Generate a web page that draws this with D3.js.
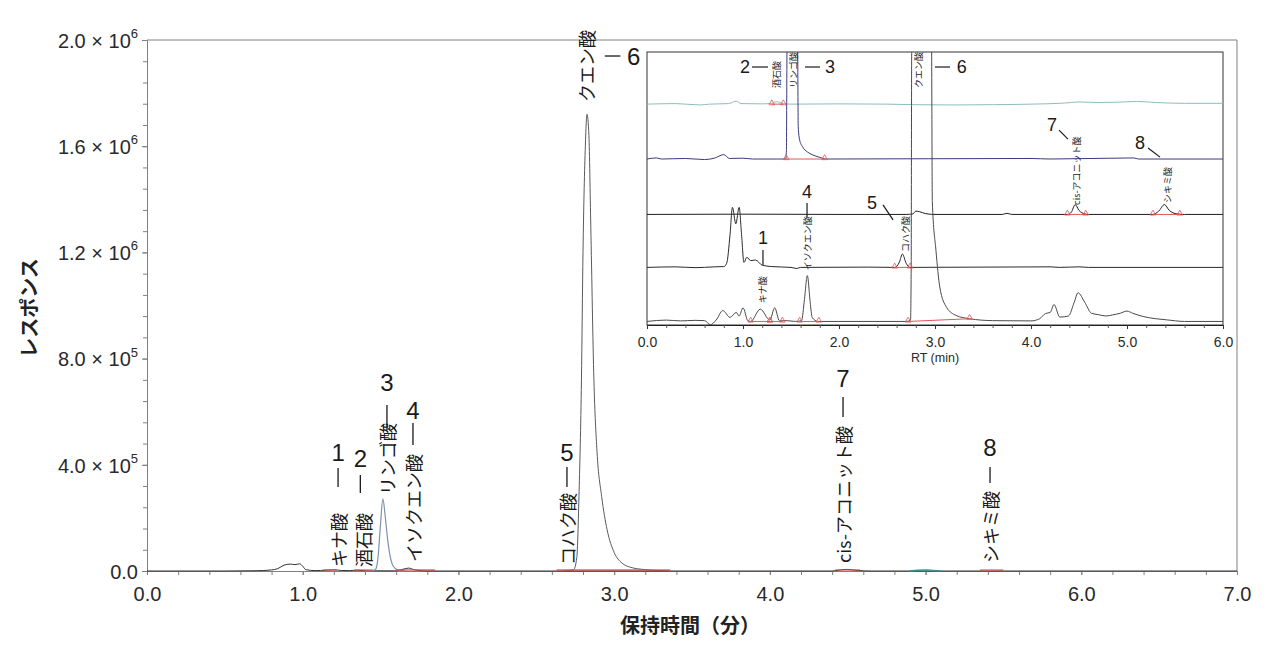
<!DOCTYPE html>
<html><head><meta charset="utf-8">
<script src="https://cdn.jsdelivr.net/npm/d3@7"></script>
<style>
body{margin:0;background:#fff}
text{font-family:"Liberation Sans","Noto Sans CJK JP",Arial,sans-serif}
.jp{font-family:"Noto Sans CJK JP","Liberation Sans",sans-serif}
</style>
</head><body>
<svg id="chart" width="1280" height="657"></svg>
<script>
// ---------------- DATA ----------------
const mainTicksX = [0,1,2,3,4,5,6,7];
const mainMinorX = [0,0.2,0.4,0.6,0.8,1,1.2,1.4,1.6,1.8,2,2.2,2.4,2.6,2.8,3,3.2,3.4,3.6,3.8,4,4.2,4.4,4.6,4.8,5,5.2,5.4,5.6,5.8,6,6.2,6.4,6.6,6.8,7];
const mainTicksY = [0,4e5,8e5,1.2e6,1.6e6,2e6];
const mainMinorY = [0,8e4,1.6e5,2.4e5,3.2e5,4e5,4.8e5,5.6e5,6.4e5,7.2e5,8e5,8.8e5,9.6e5,1.04e6,1.12e6,1.2e6,1.28e6,1.36e6,1.44e6,1.52e6,1.6e6,1.68e6,1.76e6,1.84e6,1.92e6,2e6];
const insetTicksX = [0,1,2,3,4,5,6];
const insetMinorX = [0,0.2,0.4,0.6,0.8,1,1.2,1.4,1.6,1.8,2,2.2,2.4,2.6,2.8,3,3.2,3.4,3.6,3.8,4,4.2,4.4,4.6,4.8,5,5.2,5.4,5.6,5.8,6];

const peakNumbers = ["1","2","3","4","5","6","7","8"];
const peakNames = ["キナ酸","酒石酸","リンゴ酸","イソクエン酸","コハク酸","クエン酸","cis-アコニット酸","シキミ酸"];

// main chromatogram traces [RT (min), response]
const mainBase = [[0,0],[0.5,0],[0.7,1000],[0.8,4000],[0.84,9000],[0.88,22000],[0.92,26000],[0.95,24000],[0.98,27000],[1.0,18000],[1.02,5000],[1.08,1500],[1.15,3000],[1.2,4500],[1.25,2000],[1.3,1500],[1.35,3000],[1.4,800],[1.6,600],[1.64,6000],[1.68,11000],[1.72,4000],[1.8,0],[2.6,0],[4.4,0],[4.45,4000],[4.5,6000],[4.56,2000],[4.65,0],[7,0]];
const mainMalic = [[1.40,0],[1.45,1500],[1.47,8000],[1.485,60000],[1.50,180000],[1.515,272000],[1.53,205000],[1.545,120000],[1.56,60000],[1.58,20000],[1.61,4000],[1.66,0]];
const mainCitric = [[2.68,0],[2.74,5000],[2.76,50000],[2.775,300000],[2.79,720000],[2.80,1200000],[2.815,1600000],[2.826,1720000],[2.838,1640000],[2.85,1300000],[2.87,720000],[2.89,450000],[2.92,280000],[2.955,155000],[3.0,70000],[3.05,30000],[3.10,15000],[3.2,5000],[3.35,0]];
const mainMinor = [[4.9,0],[4.95,2500],[5.0,3500],[5.05,1500],[5.1,0]];
const mainIntegrations = [[1.13,1.22],[1.33,1.45],[1.6,1.85],[2.63,3.36],[4.42,4.58],[5.35,5.5]];

// inset traces: heights above each trace's own baseline (relative units, frame = 100)
const insetOffsets = [80.9, 60.8, 40.5, 21.1, 1.3];
const insetA = [[0,0],[0.3,0.2],[0.55,-0.3],[0.65,0],[0.85,0.2],[0.93,1.1],[0.98,0.2],[1.2,0.1],[1.3,0.3],[1.35,0.9],[1.42,0.2],[1.5,0],[2.0,0.1],[2.5,0],[2.8,-0.2],[3.2,-0.3],[3.6,-0.2],[4.0,0],[4.35,0.4],[4.5,0.8],[4.7,0.6],[4.9,0.7],[5.1,1.0],[5.3,0.6],[5.6,0.3],[6,0.3]];
const insetB = [[0,0],[0.1,0.4],[0.15,0],[0.4,0.2],[0.6,-0.2],[0.7,0.3],[0.8,1.6],[0.86,0.2],[1.0,0.3],[1.1,0],[1.445,0],[1.452,3],[1.458,40],[1.47,100],[1.52,140],[1.56,100],[1.57,40],[1.575,12],[1.59,7],[1.62,4.5],[1.67,2.6],[1.72,1.6],[1.8,0.6],[1.87,0],[4.0,0.2],[4.2,0],[5.07,0.4],[5.12,0],[6,0]];
const insetC = [[0,0],[1.0,0.1],[2.0,0],[2.7,0],[2.77,0.2],[2.8,1.2],[2.84,1.0],[2.9,0.3],[3.0,0],[3.7,0],[3.75,0.4],[3.8,0],[4.38,0],[4.42,0.8],[4.46,3.6],[4.5,1.5],[4.56,0.2],[4.6,0],[5.27,0],[5.33,1.2],[5.39,3.6],[5.44,1.5],[5.52,0.2],[5.6,0],[6,0]];
const insetD = [[0,0],[0.3,0.2],[0.5,-0.1],[0.7,0.2],[0.8,0.3],[0.83,1.5],[0.865,12],[0.89,22],[0.925,16],[0.96,22],[0.985,12],[1.01,1.8],[1.04,3.7],[1.08,2.5],[1.13,2.7],[1.2,0.8],[1.3,0.3],[1.5,0],[1.56,-0.4],[1.6,0],[2.3,0.1],[2.58,0],[2.63,2.0],[2.66,4.9],[2.7,1.5],[2.74,0],[4.2,0.2],[4.3,0],[4.5,0.2],[4.6,0],[6,0]];
const insetE = [[0,0],[0.2,0.5],[0.35,0.2],[0.5,0.4],[0.6,0.3],[0.66,-1.2],[0.72,0.5],[0.79,4],[0.865,1.5],[0.93,3.3],[0.96,2],[1.0,5],[1.05,0.3],[1.08,0],[1.18,4.5],[1.28,0.5],[1.33,5],[1.38,0.2],[1.45,0.3],[1.55,0],[1.61,0.3],[1.64,8],[1.67,16.8],[1.7,7],[1.72,1.5],[1.78,0],[2.7,0],[2.745,0.5],[2.752,20],[2.757,99],[2.8,200],[2.88,220],[2.95,150],[2.965,100],[2.972,44],[3.01,26],[3.05,12.6],[3.12,5.2],[3.22,2.2],[3.36,1.0],[3.6,0.3],[4.0,0.2],[4.09,1],[4.15,2.9],[4.2,3.3],[4.24,6.2],[4.3,1.6],[4.39,2],[4.45,7],[4.49,10.5],[4.56,7],[4.63,3],[4.7,2.5],[4.78,2],[4.85,2.4],[4.93,3],[5.0,3.8],[5.06,3],[5.17,1.8],[5.3,1],[5.41,0.6],[5.6,0],[6,0]];
const insetTraces = [insetA, insetB, insetC, insetD, insetE];
// integration marks per trace: [trace index, RT start, height start, RT end, height end]
const insetIntegrations = [[0,1.30,0,1.42,0],[1,1.45,0,1.85,0],[2,4.38,0,4.57,0],[2,5.27,0,5.55,0],[3,2.58,0,2.74,0],[4,1.08,0,1.28,0],[4,1.28,0,1.41,0],[4,1.59,0,1.79,0],[4,2.72,0,3.36,1.0]];

// annotation anchors (data space) : number, connector, label bottom
const mainAnnot = [
  {p:0, num:[1.227,448000], line:[[1.227,388000],[1.227,316000]], txt:[1.227,15000]},
  {p:1, num:[1.37,425600], line:[[1.37,361600],[1.37,293800]], txt:[1.385,15000]},
  {p:2, num:[1.541,708100], line:[[1.541,625200],[1.541,531100]], txt:[1.541,286300]},
  {p:3, num:[1.708,606400], line:[[1.708,557400],[1.708,474600]], txt:[1.708,33900]},
  {p:4, num:[2.697,448200], line:[[2.697,391700],[2.697,316400]], txt:[2.697,22600]},
  {p:5, num:[3.125,1939700], line:[[2.94,1939700],[3.04,1939700]], txt:[2.82,1766500]},
  {p:6, num:[4.47,726900], line:[[4.47,655400],[4.47,580100]], txt:[4.47,30100]},
  {p:7, num:[5.414,467000], line:[[5.414,391700],[5.414,331500]], txt:[5.414,30100]}
];
const insetAnnot = [
  {p:0, num:[1.208,31.9], line:[[1.208,27.5],[1.208,22]], txt:[1.198,8]},
  {p:1, num:[1.021,94.5], line:[[1.094,94.5],[1.26,94.5]], txt:[1.354,86.8]},
  {p:2, num:[1.906,94.5], line:[[1.646,94.5],[1.802,94.5]], txt:[1.521,86.8]},
  {p:3, num:[1.667,48.7], line:[[1.667,44.7],[1.667,39.2]], txt:[1.677,20.1]},
  {p:4, num:[2.344,44.7], line:[[2.458,44],[2.563,38.5]], txt:[2.6875,26.7]},
  {p:5, num:[3.28,94.5], line:[[3.0,94.5],[3.156,94.5]], txt:[2.833,86.8]},
  {p:6, num:[4.219,73.3], line:[[4.292,71.4],[4.385,68.1]], txt:[4.479,44]},
  {p:7, num:[5.135,66.7], line:[[5.219,64.8],[5.344,61.5]], txt:[5.417,44.7]}
];

const insetColors = ["#8dbdbd","#3a3a7c","#1e1e1e","#2a2a2a","#4a4a4a"];

// ---------------- CHART ----------------
const svg = d3.select("#chart");
const x = d3.scaleLinear().domain([0,7]).range([147,1237]);
const y = d3.scaleLinear().domain([0,2e6]).range([571,40]);
const axisColor = "#808080";

// frame top/right
svg.append("line").attr("x1",x(0)).attr("x2",x(7)).attr("y1",y(2e6)).attr("y2",y(2e6)).attr("stroke",axisColor);
svg.append("line").attr("x1",x(7)).attr("x2",x(7)).attr("y1",y(2e6)).attr("y2",y(0)).attr("stroke",axisColor);

// x axis
const gx = svg.append("g").attr("transform",`translate(0,${y(0)})`);
gx.call(d3.axisBottom(x).tickValues(mainMinorX).tickSize(4).tickFormat(""));
gx.call(g=>g.selectAll("line").attr("stroke",axisColor));
gx.select(".domain").attr("stroke",axisColor);
const gx2 = svg.append("g").attr("transform",`translate(0,${y(0)})`);
gx2.call(d3.axisBottom(x).tickValues(mainTicksX).tickSize(4).tickPadding(12).tickFormat(d3.format(".1f")));
gx2.select(".domain").remove();
gx2.selectAll("line").attr("stroke",axisColor);
gx2.selectAll("text").attr("font-size",20).attr("fill","#2a2a2a").style("font-family","Liberation Sans, Arial, sans-serif");

// y axis
const gy = svg.append("g").attr("transform",`translate(${x(0)},0)`);
gy.call(d3.axisLeft(y).tickValues(mainMinorY).tickSize(4).tickFormat(""));
gy.selectAll("line").attr("stroke",axisColor);
gy.select(".domain").attr("stroke",axisColor);
const gy2 = svg.append("g").attr("transform",`translate(${x(0)},0)`);
gy2.call(d3.axisLeft(y).tickValues(mainTicksY).tickSize(5).tickPadding(9).tickFormat(""));
gy2.select(".domain").remove();
gy2.selectAll("line").attr("stroke",axisColor);
gy2.selectAll(".tick").each(function(d){
  const t = d3.select(this).select("text")
    .attr("font-size",20).attr("fill","#2a2a2a").attr("dy","0.36em")
    .attr("x",-9).attr("text-anchor","end");
  if (d === 0) { t.text("0.0"); return; }
  const e = Math.floor(Math.log10(d));
  const m = (d/Math.pow(10,e)).toFixed(1);
  t.text(null);
  t.append("tspan").text(m+" × 10");
  t.append("tspan").attr("font-size",13).attr("dy","-0.75em").text(e);
});

// axis titles
svg.append("text").attr("class","jp").attr("x",690).attr("y",624).attr("text-anchor","middle")
  .attr("dominant-baseline","central").attr("font-size",20).attr("font-weight","bold").attr("fill","#222").text("保持時間（分）");
svg.append("text").attr("class","jp").attr("transform","translate(28,308) rotate(-90)").attr("text-anchor","middle")
  .attr("dominant-baseline","central").attr("font-size",20).attr("font-weight","bold").attr("fill","#222").text("レスポンス");

// main traces
const mline = d3.line().x(d=>x(d[0])).y(d=>y(d[1])).curve(d3.curveMonotoneX);
svg.append("path").datum(mainBase).attr("d",mline).attr("fill","none").attr("stroke","#333").attr("stroke-width",1);
svg.append("path").datum(mainMinor).attr("d",mline).attr("fill","none").attr("stroke","#3f8f8f").attr("stroke-width",1.5);
svg.append("path").datum(mainMalic).attr("d",mline).attr("fill","none").attr("stroke","#7f90b2").attr("stroke-width",1.2);
svg.append("path").datum(mainCitric).attr("d",mline).attr("fill","none").attr("stroke","#5a5a5a").attr("stroke-width",1);
svg.selectAll(".mint").data(mainIntegrations).enter().append("line")
  .attr("x1",d=>x(d[0])).attr("x2",d=>x(d[1])).attr("y1",y(0)-1).attr("y2",y(0)-1)
  .attr("stroke","#e04040").attr("stroke-width",1.3).attr("opacity",0.8);

// main annotations
const ma = svg.append("g");
mainAnnot.forEach(a=>{
  ma.append("text").attr("x",x(a.num[0])).attr("y",y(a.num[1])).attr("text-anchor","middle")
    .attr("dominant-baseline","central").attr("font-size",24).attr("fill","#1a1a1a").text(peakNumbers[a.p]);
  ma.append("line").attr("x1",x(a.line[0][0])).attr("y1",y(a.line[0][1])).attr("x2",x(a.line[1][0])).attr("y2",y(a.line[1][1]))
    .attr("stroke","#1a1a1a").attr("stroke-width",1.3);
  ma.append("text").attr("class","jp").attr("transform",`translate(${x(a.txt[0])},${y(a.txt[1])}) rotate(-90)`)
    .attr("text-anchor","start").attr("dominant-baseline","central").attr("font-size",18).attr("fill","#1a1a1a").text(peakNames[a.p]);
});

// ---------------- INSET ----------------
const ix = d3.scaleLinear().domain([0,6]).range([647,1223]);
const iy = d3.scaleLinear().domain([0,100]).range([325,52]);
const inset = svg.append("g");
inset.append("rect").attr("x",ix(0)).attr("y",iy(100)).attr("width",ix(6)-ix(0)).attr("height",iy(0)-iy(100))
  .attr("fill","#fff").attr("stroke","#333").attr("stroke-width",1);
svg.append("defs").append("clipPath").attr("id","iclip").append("rect")
  .attr("x",ix(0)).attr("y",iy(100)).attr("width",ix(6)-ix(0)).attr("height",iy(0)-iy(100));

const igx = inset.append("g").attr("transform",`translate(0,${iy(0)})`);
igx.call(d3.axisBottom(ix).tickValues(insetMinorX).tickSize(3).tickFormat(""));
igx.selectAll("line").attr("stroke","#555");
igx.select(".domain").attr("stroke","#222");
const igx2 = inset.append("g").attr("transform",`translate(0,${iy(0)})`);
igx2.call(d3.axisBottom(ix).tickValues(insetTicksX).tickSize(4).tickPadding(8).tickFormat(d3.format(".1f")));
igx2.select(".domain").remove();
igx2.selectAll("line").attr("stroke","#333");
igx2.selectAll("text").attr("font-size",14).attr("fill","#2a2a2a");
inset.append("text").attr("x",(ix(0)+ix(6))/2).attr("y",358).attr("text-anchor","middle")
  .attr("dominant-baseline","central").attr("font-size",12.5).attr("fill","#2a2a2a").text("RT (min)");

const traces = inset.append("g").attr("clip-path","url(#iclip)");
insetTraces.forEach((tr,i)=>{
  const off = insetOffsets[i];
  const ln = d3.line().x(d=>ix(d[0])).y(d=>iy(d[1]+off)).curve(d3.curveMonotoneX);
  traces.append("path").datum(tr).attr("d",ln).attr("fill","none").attr("stroke",insetColors[i]).attr("stroke-width",1);
});
const tri = d3.symbol().type(d3.symbolTriangle).size(14);
insetIntegrations.forEach(s=>{
  const off = insetOffsets[s[0]];
  traces.append("line").attr("x1",ix(s[1])).attr("y1",iy(s[2]+off)).attr("x2",ix(s[3])).attr("y2",iy(s[4]+off))
    .attr("stroke","#e05555").attr("stroke-width",1);
  [[s[1],s[2]],[s[3],s[4]]].forEach(p=>{
    traces.append("path").attr("d",tri).attr("transform",`translate(${ix(p[0])},${iy(p[1]+off)-1})`)
      .attr("fill","none").attr("stroke","#e05555").attr("stroke-width",0.8);
  });
});

insetAnnot.forEach(a=>{
  inset.append("text").attr("x",ix(a.num[0])).attr("y",iy(a.num[1])).attr("text-anchor","middle")
    .attr("dominant-baseline","central").attr("font-size",18).attr("fill","#1a1a1a").text(peakNumbers[a.p]);
  inset.append("line").attr("x1",ix(a.line[0][0])).attr("y1",iy(a.line[0][1])).attr("x2",ix(a.line[1][0])).attr("y2",iy(a.line[1][1]))
    .attr("stroke","#1a1a1a").attr("stroke-width",1.2);
  inset.append("text").attr("class","jp").attr("transform",`translate(${ix(a.txt[0])},${iy(a.txt[1])}) rotate(-90)`)
    .attr("text-anchor","start").attr("dominant-baseline","central").attr("font-size",9).attr("fill","#222").text(peakNames[a.p]);
});
</script>
</body></html>
